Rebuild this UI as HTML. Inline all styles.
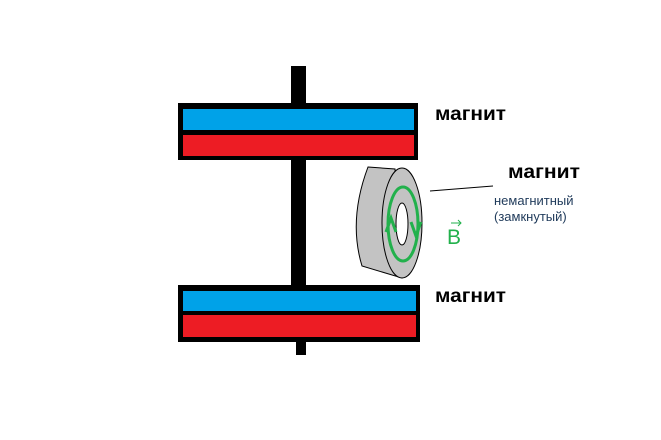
<!DOCTYPE html>
<html><head><meta charset="utf-8"><style>
html,body{margin:0;padding:0;background:#fff;}
</style></head><body>
<svg width="661" height="440" xmlns="http://www.w3.org/2000/svg" style="display:block">
<rect width="661" height="440" fill="#fff"/>
<!-- rod -->
<rect x="291" y="66" width="15" height="220" fill="#000"/>
<rect x="296" y="340" width="10" height="15" fill="#000"/>
<!-- top magnet -->
<rect x="178" y="103" width="240" height="57" fill="#000"/>
<rect x="183" y="109" width="231" height="21" fill="#00a2e8"/>
<rect x="183" y="135" width="231" height="21" fill="#ed1c24"/>
<!-- bottom magnet -->
<rect x="178" y="285" width="242" height="57" fill="#000"/>
<rect x="183" y="291" width="233" height="20" fill="#00a2e8"/>
<rect x="183" y="315" width="233" height="22" fill="#ed1c24"/>
<!-- ring -->
<path d="M368,167 L395,169 L402,278 L362,266 Q348,220 368,167 Z" fill="#c3c3c3" stroke="#000" stroke-width="1"/>
<ellipse cx="402" cy="223" rx="20" ry="55" fill="#c3c3c3" stroke="#000" stroke-width="1"/>
<ellipse cx="403" cy="224" rx="15" ry="37" fill="none" stroke="#22b14c" stroke-width="3"/>
<ellipse cx="402" cy="224" rx="6" ry="21" fill="#fff" stroke="#000" stroke-width="1"/>
<path d="M386,232 L391,218 L396,232" fill="none" stroke="#22b14c" stroke-width="3"/>
<path d="M411,222 L416,236 L421,222" fill="none" stroke="#22b14c" stroke-width="3"/>
<!-- leader -->
<line x1="430" y1="191" x2="493" y2="186" stroke="#000" stroke-width="1"/>
<!-- labels -->
<g font-family="Liberation Sans, sans-serif" font-weight="bold" font-size="19" fill="#000">
<text x="435" y="120" textLength="71" lengthAdjust="spacingAndGlyphs">магнит</text>
<text x="508" y="178" textLength="72" lengthAdjust="spacingAndGlyphs">магнит</text>
<text x="435" y="302" textLength="71" lengthAdjust="spacingAndGlyphs">магнит</text>
</g>
<g font-family="Liberation Sans, sans-serif" font-size="13" fill="#1f3a5a">
<text x="494" y="205">немагнитный</text>
<text x="494" y="221">(замкнутый)</text>
</g>
<text x="447" y="244" font-family="Liberation Sans, sans-serif" font-size="21" fill="#22b14c">B</text>
<path d="M451,223 L461,223 M458,220 L461,223 L458,226" fill="none" stroke="#22b14c" stroke-width="1"/>
</svg>
</body></html>
